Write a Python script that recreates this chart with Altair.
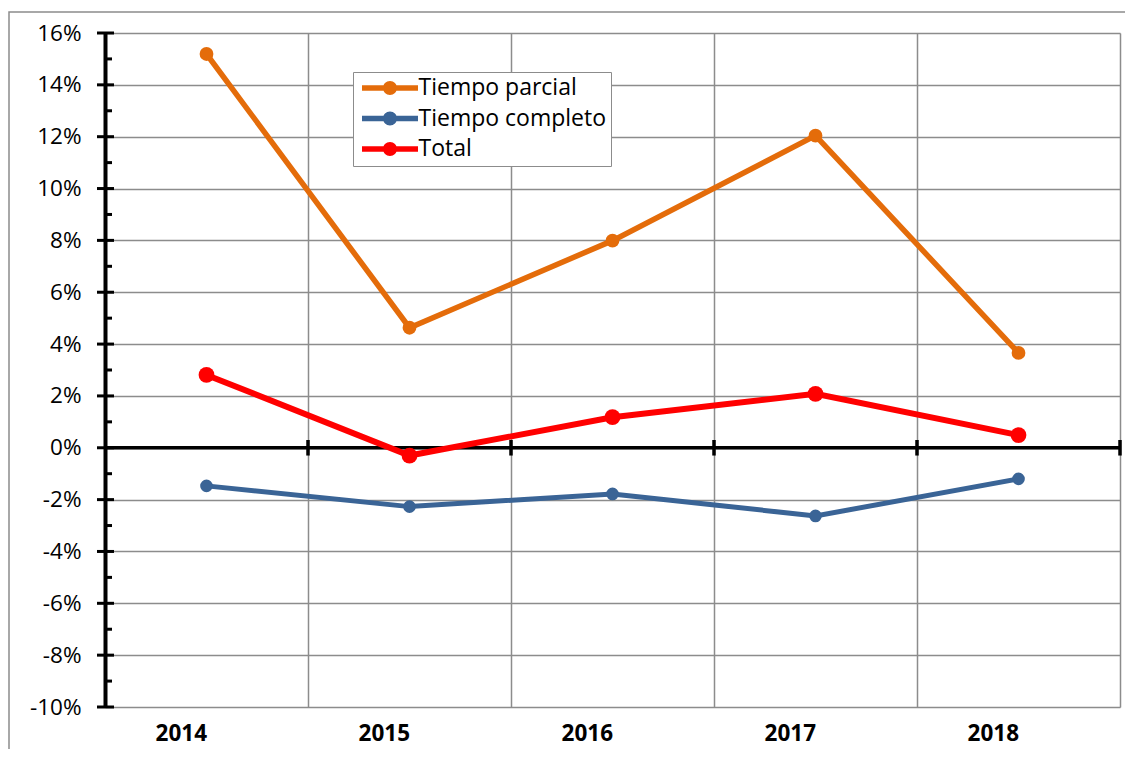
import altair as alt
import pandas as pd

# ---- data ----
years = ["2014", "2015", "2016", "2017", "2018"]
series_names = ["Tiempo parcial", "Tiempo completo", "Total"]
tiempo_parcial = [0.1519, 0.0463, 0.0799, 0.1204, 0.0366]
tiempo_completo = [-0.0147, -0.0227, -0.0178, -0.0263, -0.0120]
total = [0.0281, -0.0030, 0.0118, 0.0208, 0.0049]
series_colors = ["#E46C0A", "#3A6496", "#FF0000"]
series_widths = [5.5, 5, 6]
series_point_sizes = [190, 160, 250]

major_ticks = [-0.10, -0.08, -0.06, -0.04, -0.02, 0.0, 0.02, 0.04, 0.06, 0.08, 0.10, 0.12, 0.14, 0.16]
minor_ticks = [-0.09, -0.07, -0.05, -0.03, -0.01, 0.01, 0.03, 0.05, 0.07, 0.09, 0.11, 0.13, 0.15]
all_grid = sorted(major_ticks + minor_ticks)

rows = []
for name, vals in zip(series_names, [tiempo_parcial, tiempo_completo, total]):
    for y, v in zip(years, vals):
        rows.append({"year": y, "value": v, "serie": name})
df = pd.DataFrame(rows)

W, H = 1015, 674
FONT = "Open Sans"

x_axis = alt.Axis(
    title=None, tickBand="extent", grid=True, gridColor="#8c8c8c", gridWidth=1.5,
    domain=False, ticks=False, labelFont=FONT, labelFontSize=22.5, labelFontWeight="bold",
    labelColor="black", labelPadding=26, labelAngle=0,
)
x_scale = alt.Scale(type="band", paddingInner=0, paddingOuter=0)
y_scale = alt.Scale(domain=[-0.10, 0.16], nice=False, zero=False)
y_axis = alt.Axis(
    title=None, values=all_grid,
    labelExpr="round(datum.value*100) % 2 == 0 ? replace(format(datum.value, '.0%'), '\u2212', '-') : ''",
    grid=True, gridWidth=1.5,
    gridColor={"condition": {"test": "round(datum.value*100) % 2 == 0", "value": "#8c8c8c"}, "value": "#c4c4c4"},
    domain=True, domainColor="black", domainWidth=4,
    ticks=False, tickSize=0, labelPadding=24,
    labelFont=FONT, labelFontSize=22.5, labelColor="black",
)

color_scale = alt.Scale(domain=series_names, range=series_colors)
legend_symbol = "M-1,-0.38 L7,-0.38 L7,0.38 L-1,0.38 Z M4,0 A1,1 0 1,1 2,0 A1,1 0 1,1 4,0 Z"
legend = alt.Legend(
    title=None, orient="none", legendX=248, legendY=39,
    symbolType=legend_symbol, symbolSize=196, symbolStrokeWidth=0,
    symbolOpacity=1, labelOffset=38, rowPadding=6.5,
    labelFont=FONT, labelFontSize=23, labelColor="black",
    padding=4.5, strokeColor="#8c8c8c", fillColor="white",
    labelLimit=400,
)

base = alt.Chart(df)

line_layers = []
point_layers = []
for name, w, s in zip(series_names, series_widths, series_point_sizes):
    sub = base.transform_filter(alt.datum.serie == name)
    line_layers.append(
        sub.mark_line(strokeWidth=w).encode(
            x=alt.X("year:N", sort=years, scale=x_scale, axis=x_axis),
            y=alt.Y("value:Q", scale=y_scale, axis=y_axis),
            color=alt.Color("serie:N", scale=color_scale, sort=series_names, legend=legend),
        )
    )
    point_layers.append(
        sub.mark_point(filled=True, opacity=1, size=s).encode(
            x=alt.X("year:N", sort=years),
            y=alt.Y("value:Q"),
            color=alt.Color("serie:N", scale=color_scale, sort=series_names, legend=legend),
        )
    )

zero_rule = alt.Chart(alt.Data(values=[{}])).mark_rule(color="black", strokeWidth=3.5).encode(
    y=alt.datum(0, type="quantitative"), x=alt.value(0), x2=alt.value(W)
)

zero_ticks = alt.Chart(pd.DataFrame({"year": years})).mark_rule(color="black", strokeWidth=3.5).encode(
    x=alt.X("year:N", sort=years, bandPosition=1),
    y=alt.datum(-0.003, type="quantitative"),
    y2=alt.datum(0.003),
)

major_df = pd.DataFrame({"value": major_ticks})
minor_df = pd.DataFrame({"value": minor_ticks})
y_major = alt.Chart(major_df).mark_rule(color="black", strokeWidth=3).encode(
    y=alt.Y("value:Q"), x=alt.value(-8), x2=alt.value(9)
)
y_minor = alt.Chart(minor_df).mark_rule(color="black", strokeWidth=3).encode(
    y=alt.Y("value:Q"), x=alt.value(0), x2=alt.value(7)
)

outer = alt.Chart(alt.Data(values=[{}])).mark_rect(fillOpacity=0, stroke="#8c8c8c", strokeWidth=1.5).encode(
    x=alt.value(-96), x2=alt.value(W + 60), y=alt.value(-21), y2=alt.value(H + 120)
)

chart = alt.layer(
    outer, zero_rule, zero_ticks, y_major, y_minor, *line_layers, *point_layers
).properties(
    width=W, height=H,
    padding={"left": 97, "top": 25, "right": 5, "bottom": 42},
    autosize=alt.AutoSizeParams(type="none"),
).configure_view(strokeWidth=0).configure(background="white")

chart.save("out.html", embed_options={"renderer": "svg", "actions": False})
